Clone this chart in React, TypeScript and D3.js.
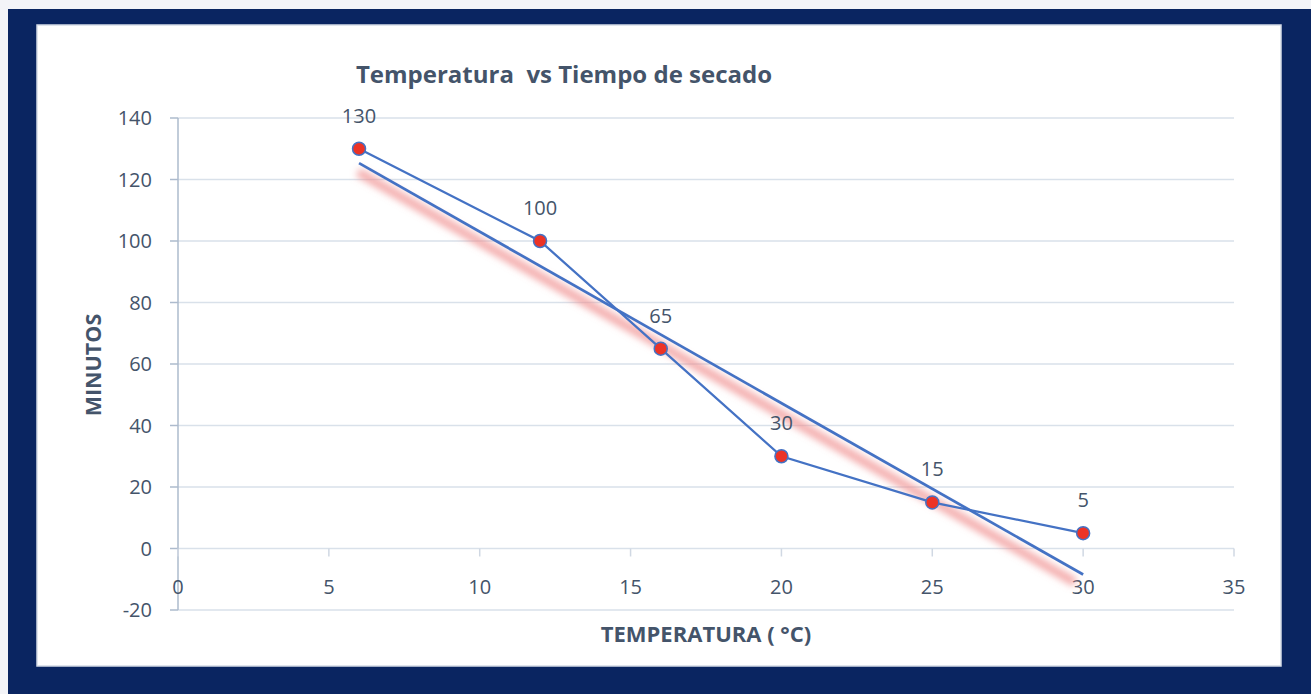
import React, { useEffect, useRef } from 'react';
import * as d3 from 'd3';

const temperatures = [6, 12, 16, 20, 25, 30];
const minutes = [130, 100, 65, 30, 15, 5];
const xTicks = [0, 5, 10, 15, 20, 25, 30, 35];
const yTicks = [-20, 0, 20, 40, 60, 80, 100, 120, 140];

const FONT = '"Open Sans", "Liberation Sans", sans-serif';
const TEXT = '#44546a';

const App = () => {
    const ref = useRef<SVGSVGElement>(null);

    useEffect(() => {
        document.body.style.margin = '0';
        const svg = d3.select(ref.current);
        svg.selectAll('*').remove();

        // page, navy frame, white card
        svg.append('rect').attr('width', 1311).attr('height', 694).attr('fill', '#f3f4f8');
        svg.append('rect').attr('x', 8).attr('y', 9).attr('width', 1303).attr('height', 685).attr('fill', '#0a2561');
        svg.append('rect').attr('x', 37).attr('y', 25).attr('width', 1244).attr('height', 641)
            .attr('fill', '#fff').attr('stroke', '#d5dbe6').attr('stroke-width', 1.5);

        const x = d3.scaleLinear().domain([0, 35]).range([178, 1234]);
        const y = d3.scaleLinear().domain([-20, 140]).range([610, 118]);

        // gridlines
        svg.append('g').selectAll('line').data(yTicks).enter().append('line')
            .attr('x1', x(0)).attr('x2', x(35))
            .attr('y1', d => y(d)).attr('y2', d => y(d))
            .attr('stroke', '#d9e1ea').attr('stroke-width', 1.5);

        // y axis
        svg.append('line').attr('x1', x(0)).attr('x2', x(0)).attr('y1', y(140)).attr('y2', y(-20))
            .attr('stroke', '#adbbcd').attr('stroke-width', 1.5);
        svg.append('g').selectAll('line').data(yTicks).enter().append('line')
            .attr('x1', x(0) - 8).attr('x2', x(0)).attr('y1', d => y(d)).attr('y2', d => y(d))
            .attr('stroke', '#adbbcd').attr('stroke-width', 1.5);
        svg.append('g').selectAll('text').data(yTicks).enter().append('text')
            .attr('x', 152).attr('y', d => y(d)).attr('dy', '0.35em')
            .attr('text-anchor', 'end').attr('font-family', FONT).attr('font-size', 20)
            .attr('fill', TEXT).text(d => d);

        // x axis at y = 0
        svg.append('g').selectAll('line').data(xTicks).enter().append('line')
            .attr('x1', d => x(d)).attr('x2', d => x(d)).attr('y1', y(0)).attr('y2', y(0) + 8)
            .attr('stroke', '#d0d8e3').attr('stroke-width', 1.5);
        svg.append('g').selectAll('text').data(xTicks).enter().append('text')
            .attr('x', d => x(d)).attr('y', 587).attr('dy', '0.35em')
            .attr('text-anchor', 'middle').attr('font-family', FONT).attr('font-size', 20)
            .attr('fill', TEXT).text(d => d);

        // linear trendline
        const xm = d3.mean(temperatures)!;
        const ym = d3.mean(minutes)!;
        const sxy = d3.sum(temperatures, (t, i) => (t - xm) * (minutes[i] - ym));
        const sxx = d3.sum(temperatures, t => (t - xm) ** 2);
        const slope = sxy / sxx;
        const intercept = ym - slope * xm;
        const ends = [temperatures[0], temperatures[temperatures.length - 1]];

        const defs = svg.append('defs');
        defs.append('filter').attr('id', 'glow').attr('x', '-10%').attr('y', '-10%').attr('width', '120%').attr('height', '120%')
            .append('feGaussianBlur').attr('stdDeviation', 3.5);

        svg.append('line')
            .attr('x1', x(ends[0]) - 1).attr('y1', y(slope * ends[0] + intercept) + 9)
            .attr('x2', x(ends[1]) - 8).attr('y2', y(slope * ends[1] + intercept) + 8)
            .attr('stroke', '#f08a8a').attr('stroke-opacity', 0.7).attr('stroke-width', 9)
            .attr('filter', 'url(#glow)');
        svg.append('line')
            .attr('x1', x(ends[0])).attr('y1', y(slope * ends[0] + intercept))
            .attr('x2', x(ends[1])).attr('y2', y(slope * ends[1] + intercept))
            .attr('stroke', '#4472c4').attr('stroke-width', 2.75);

        // data line
        const line = d3.line<number>().x((d, i) => x(temperatures[i])).y(d => y(d));
        svg.append('path').attr('d', line(minutes)).attr('fill', 'none')
            .attr('stroke', '#4472c4').attr('stroke-width', 2.25);

        svg.append('g').selectAll('circle').data(minutes).enter().append('circle')
            .attr('cx', (d, i) => x(temperatures[i])).attr('cy', d => y(d)).attr('r', 6.5)
            .attr('fill', '#ec3326').attr('stroke', '#4472c4').attr('stroke-width', 1.5);

        svg.append('g').selectAll('text').data(minutes).enter().append('text')
            .attr('x', (d, i) => x(temperatures[i])).attr('y', d => y(d) - 33).attr('dy', '0.35em')
            .attr('text-anchor', 'middle').attr('font-family', FONT).attr('font-size', 20)
            .attr('fill', TEXT).text(d => d);

        // titles
        svg.append('text').attr('x', 564).attr('y', 75).attr('dy', '0.35em')
            .attr('text-anchor', 'middle').attr('font-family', FONT).attr('font-size', 24)
            .attr('font-weight', 'bold').attr('fill', TEXT).attr('xml:space', 'preserve')
            .text('Temperatura  vs Tiempo de secado');
        svg.append('text').attr('x', 706).attr('y', 634).attr('dy', '0.35em')
            .attr('text-anchor', 'middle').attr('font-family', FONT).attr('font-size', 22)
            .attr('font-weight', 'bold').attr('fill', TEXT).text('TEMPERATURA ( °C)');
        svg.append('text').attr('transform', 'translate(93,365) rotate(-90)').attr('dy', '0.35em')
            .attr('text-anchor', 'middle').attr('font-family', FONT).attr('font-size', 21.5)
            .attr('font-weight', 'bold').attr('fill', TEXT).text('MINUTOS');
    }, []);

    return <svg ref={ref} width={1311} height={694} style={{ display: 'block' }} />;
};

export default App;
